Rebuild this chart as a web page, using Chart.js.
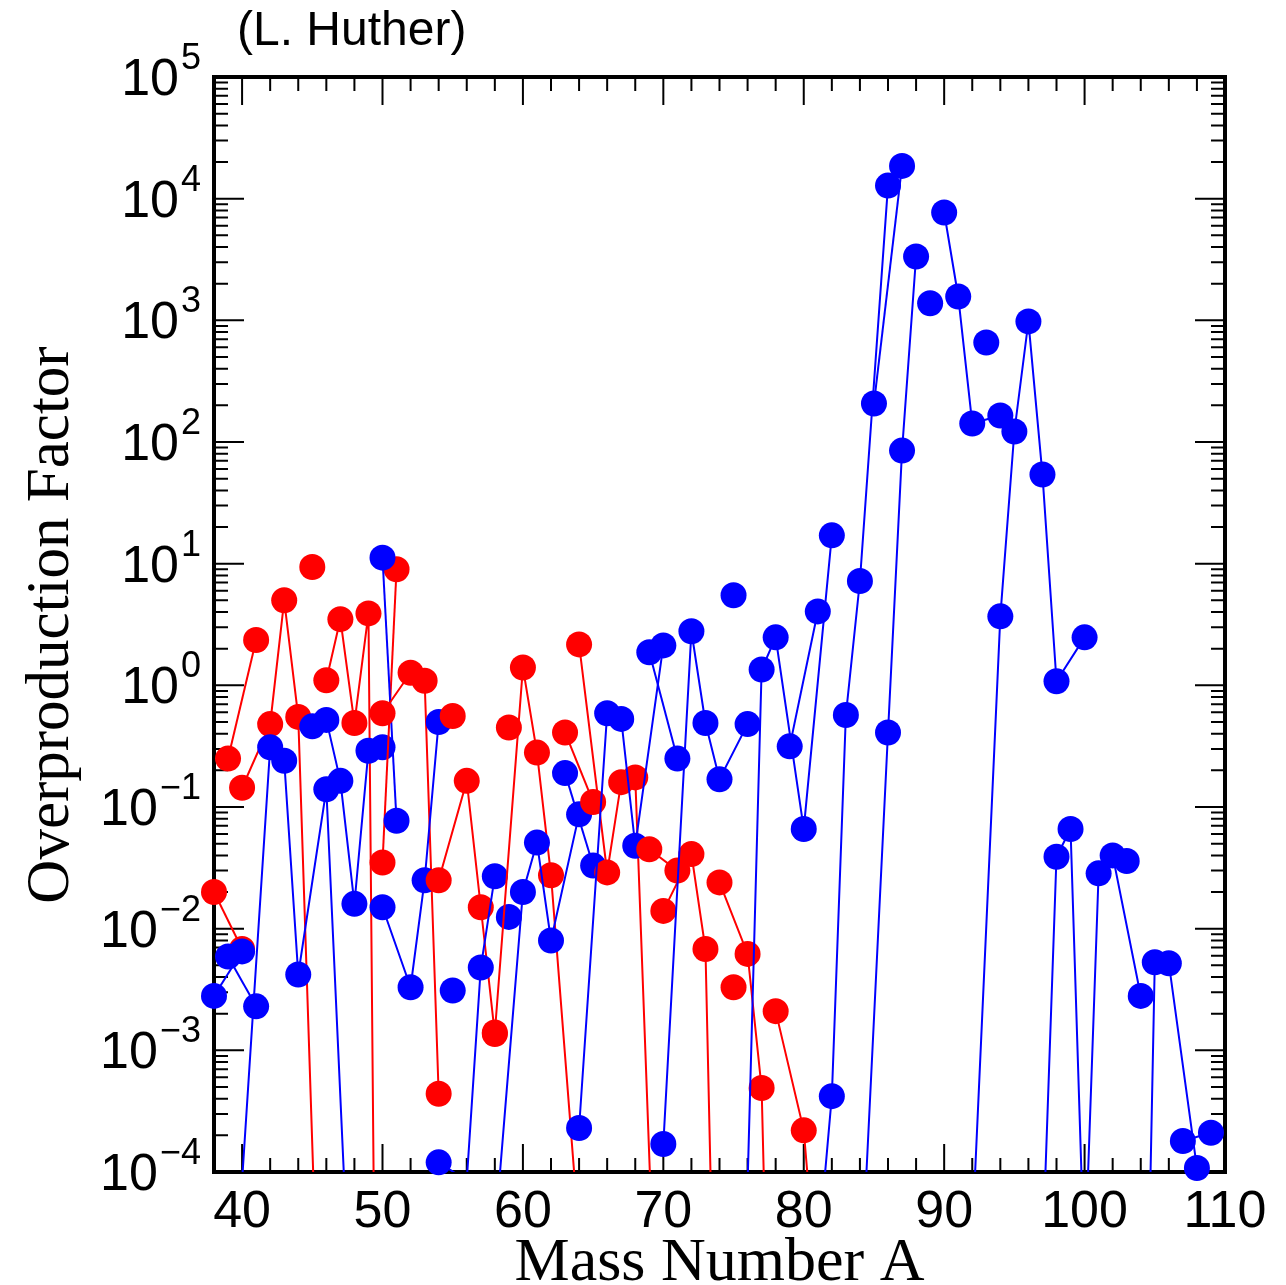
<!DOCTYPE html>
<html><head><meta charset="utf-8">
<script src="https://cdn.jsdelivr.net/npm/chart.js@4.4.0/dist/chart.umd.min.js"></script>
<style>html,body{margin:0;padding:0;background:#fff}</style>
</head><body>
<canvas id="c" width="1286" height="1285"></canvas>
<script>
// ---- data: isotope chains (mass numbers) and overproduction factors ----
// values below 1e-4 are off-scale (only the connecting line is visible)
const arMass = [38, 40];            const arRed = [0.020, 0.0068];        const arBlue = [0.0028, 0.0065];
const kMass  = [39, 41];            const kRed  = [0.25, 2.36];           const kBlue  = [0.0059, 0.0023];
const caMass = [40, 42, 43, 44, 46, 48];
const caRed  = [0.144, 0.48, 5.0, 0.55, 5e-8, 1e-8];
const caBlue = [8.5e-5, 0.31, 0.24, 0.0042, 0.14, 1.2e-6];
const scMass = [45];                const scRed = [9.4];                  const scBlue = [0.46];
const tiMass = [46, 47, 48, 49, 50];
const tiRed  = [1.1, 3.5, 0.49, 3.9, 1e-12];
const tiBlue = [0.52, 0.164, 0.016, 0.29, 0.31];
const vMass  = [50, 51];            const vRed  = [0.035, 9.0];           const vBlue  = [11.2, 0.077];
const crMass = [50, 52, 53, 54];
const crRed  = [0.59, 1.27, 1.09, 0.00044];
const crBlue = [0.015, 0.0033, 0.025, 0.50];
const mnMass = [55];                const mnRed = [0.56];                 const mnBlue = [0.0031];
const feMass = [54, 56, 57, 58];
const feRed  = [0.025, 0.164, 0.015, 0.00136];
const feBlue = [0.00012, 8.5e-5, 0.0048, 0.027];
const coMass = [59];                const coRed = [0.45];                 const coBlue = [0.0125];
const niMass = [58, 60, 61, 62, 64];
const niRed  = [0.0014, 1.40, 0.28, 0.0275, 3e-5];
const niBlue = [3e-5, 0.020, 0.051, 0.008, 0.087];
const cuMass = [63, 65];            const cuRed = [0.41, 0.11];           const cuBlue = [0.19, 0.033];
const znMass = [64, 66, 67, 68, 70];
const znRed  = [2.17, 0.029, 0.16, 0.175, 1e-7];
const znBlue = [0.00023, 0.59, 0.53, 0.048, 2.13];
const gaMass = [69, 71];            const gaRed = [0.045, 0.030];         const gaBlue = [1.87, 0.25];
const geMass = [70, 72, 73, 74, 76];
const geRed  = [0.014, 0.041, 0.0068, 5e-8, 1e-9];
const geBlue = [0.00017, 2.78, 0.49, 0.169, 0.48];
const asMass = [75];                const asRed = [0.0033];               const asBlue = [5.5];
const seMass = [74, 76, 77, 78, 80, 82];
const seRed  = [0.024, 0.0062, 0.00049, 1e-8, 1e-9, 1e-9];
const seBlue = [1e-8, 8e-5, 1.35, 2.48, 0.066, 17.1];
const brMass = [79, 81];            const brRed = [null, null];           const brBlue = [0.315, 4.05];
const krMass = [78, 80, 82, 83, 84, 86];
const krRed  = [0.0021, 0.00022, 4e-7, null, null, null];
const krBlue = [1e-8, 1e-6, 0.00042, 0.57, 7.2, 12800];
const rbMass = [85, 87];            const rbBlue = [207, 18600];
const srMass = [84, 86, 87, 88];    const srBlue = [8e-6, 0.41, 85, 3350];
const yMass  = [89];                const yBlue  = [1380];
const zrMass = [90, 91, 92, 94];    const zrBlue = [7700, 1570, 142, 165];
const nbMass = [93];                const nbBlue = [658];
const moMass = [92, 94, 95, 96, 97, 98, 100];
const moBlue = [3e-5, 3.69, 122, 980, 54, 1.08, 2.48];
const ruMass = [96, 98, 99, 100, 101, 102, 104];
const ruBlue = [1e-8, 0.039, 0.066, 1.5e-5, 0.0285, 0.040, 0.0028];
const rhMass = [103];               const rhBlue = [0.036];
const pdMass = [104, 105, 106, 108]; const pdBlue = [1e-8, 0.0053, 0.0052, 1.08e-4];
const agMass = [107, 109];          const agBlue = [0.00018, 0.00021];

const xTickLabels = ['40', '50', '60', '70', '80', '90', '100', '110'];
const yDecades = [-4, -3, -2, -1, 0, 1, 2, 3, 4, 5];

const RED = '#ff0000', BLUE = '#0000ff';
const chains = [
  [arMass, arRed, arBlue], [kMass, kRed, kBlue], [caMass, caRed, caBlue], [scMass, scRed, scBlue],
  [tiMass, tiRed, tiBlue], [vMass, vRed, vBlue], [crMass, crRed, crBlue], [mnMass, mnRed, mnBlue],
  [feMass, feRed, feBlue], [coMass, coRed, coBlue], [niMass, niRed, niBlue], [cuMass, cuRed, cuBlue],
  [znMass, znRed, znBlue], [gaMass, gaRed, gaBlue], [geMass, geRed, geBlue], [asMass, asRed, asBlue],
  [seMass, seRed, seBlue], [brMass, brRed, brBlue], [krMass, krRed, krBlue], [rbMass, null, rbBlue],
  [srMass, null, srBlue], [yMass, null, yBlue], [zrMass, null, zrBlue], [nbMass, null, nbBlue],
  [moMass, null, moBlue], [ruMass, null, ruBlue], [rhMass, null, rhBlue], [pdMass, null, pdBlue],
  [agMass, null, agBlue]
];

function pts(mass, vals) {
  const out = [];
  mass.forEach((a, i) => { if (vals[i] != null) out.push({x: a, y: vals[i]}); });
  return out;
}
const datasets = [];
chains.forEach(([mass, red, blue]) => {
  [[red, RED], [blue, BLUE]].forEach(([vals, col]) => {
    if (!vals) return;
    const d = pts(mass, vals);
    if (!d.length) return;
    datasets.push({data: d, showLine: true, borderColor: col, borderWidth: 2, pointRadius: 0,
                   pointHoverRadius: 0, clip: 0, fill: false});
    datasets.push({data: d, showLine: false, backgroundColor: col, borderWidth: 0,
                   pointRadius: c => (c.raw && c.raw.y >= 0.95e-4 ? 13 : 0), pointHoverRadius: 0, clip: false});
  });
});
datasets.reverse(); // first dataset is drawn on top in Chart.js

const frame = {
  id: 'frame',
  beforeDatasetsDraw(chart) {
    const {ctx, chartArea: a, scales: {x, y}} = chart;
    ctx.save();
    ctx.strokeStyle = '#000';
    ctx.lineWidth = 2;
    ctx.beginPath();
    for (let m = 38; m <= 110; m += 2) {
      const px = x.getPixelForValue(m);
      const len = m % 10 === 0 ? 28 : 14;
      ctx.moveTo(px, a.bottom); ctx.lineTo(px, a.bottom - len);
      ctx.moveTo(px, a.top); ctx.lineTo(px, a.top + len);
    }
    yDecades.forEach(d => {
      for (let k = 1; k <= 9; k++) {
        if (d === 5 && k > 1) break;
        const py = y.getPixelForValue(k * Math.pow(10, d));
        const len = k === 1 ? 30 : 14;
        ctx.moveTo(a.left, py); ctx.lineTo(a.left + len, py);
        ctx.moveTo(a.right, py); ctx.lineTo(a.right - len, py);
      }
    });
    ctx.stroke();
    ctx.lineWidth = 4;
    ctx.strokeRect(a.left, a.top, a.right - a.left, a.bottom - a.top);
    ctx.restore();
  },
  afterDraw(chart) {
    const {ctx, chartArea: a, scales: {x, y}} = chart;
    ctx.save();
    ctx.fillStyle = '#000';
    ctx.font = '52px "Liberation Sans", Arial, sans-serif';
    ctx.textAlign = 'center';
    ctx.textBaseline = 'alphabetic';
    xTickLabels.forEach(t => ctx.fillText(t, x.getPixelForValue(Number(t)), 1227));
    yDecades.forEach(d => {
      const py = y.getPixelForValue(Math.pow(10, d));
      const exp = d < 0 ? '\u2212' + (-d) : String(d);
      ctx.font = '36px "Liberation Sans", Arial, sans-serif';
      ctx.textAlign = 'right';
      const ew = ctx.measureText(exp).width;
      ctx.fillText(exp, 201, py - 8);
      ctx.font = '52px "Liberation Sans", Arial, sans-serif';
      ctx.fillText('10', 201 - ew - 2, py + 18);
    });
    ctx.font = '48px "Liberation Sans", Arial, sans-serif';
    ctx.textAlign = 'left';
    ctx.fillText('(L. Huther)', 237, 45);
    ctx.font = '62px "Liberation Serif", "Times New Roman", serif';
    ctx.textAlign = 'center';
    ctx.fillText('Mass Number A', (a.left + a.right) / 2, 1280);
    ctx.translate(68, 625);
    ctx.rotate(-Math.PI / 2);
    ctx.font = '61px "Liberation Serif", "Times New Roman", serif';
    ctx.fillText('Overproduction Factor', 0, 0);
    ctx.restore();
  }
};

new Chart(document.getElementById('c'), {
  type: 'scatter',
  data: {datasets},
  options: {
    responsive: false, animation: false, devicePixelRatio: 1,
    layout: {padding: {left: 214, top: 77, right: 61, bottom: 113}},
    plugins: {legend: {display: false}, tooltip: {enabled: false}},
    scales: {
      x: {type: 'linear', min: 38, max: 110, display: false},
      y: {type: 'logarithmic', min: 1e-4, max: 1e5, display: false}
    }
  },
  plugins: [frame]
});
</script>
</body></html>
